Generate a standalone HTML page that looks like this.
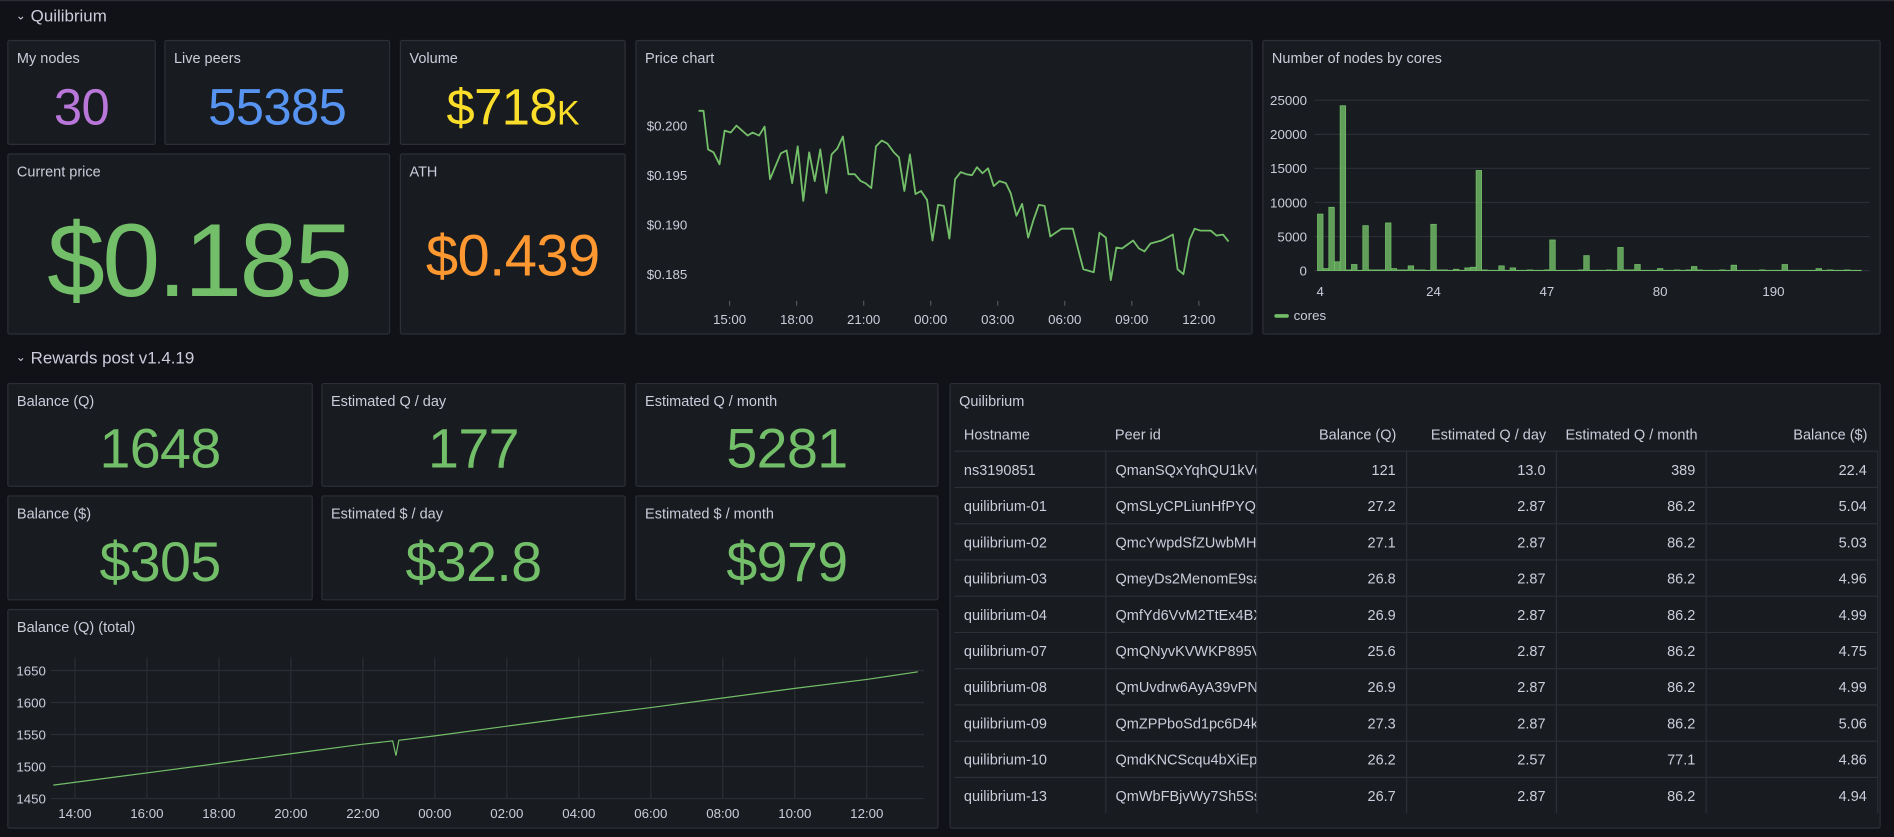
<!DOCTYPE html>
<html><head><meta charset="utf-8">
<style>
html,body{margin:0;padding:0;background:#111217;width:1894px;height:836px;overflow:hidden;}
#wrap{position:absolute;left:0;top:0;width:1568px;height:692px;transform:scale(1.20791,1.20809);transform-origin:0 0;font-family:"Liberation Sans",sans-serif;color:#ccccdc;border-top:1px solid #2a2d33;box-sizing:border-box;}
.row{position:absolute;font-size:14px;color:#ccccdc;}
.row .chev{font-size:10px;margin-right:4px;position:relative;top:-2px;}
.panel{position:absolute;background:#181b1f;border:1px solid #2c2f36;border-radius:2px;box-sizing:border-box;}
.title{position:absolute;left:7px;top:7px;font-size:12px;color:#ccccdc;}
.val{position:absolute;left:0;right:0;text-align:center;white-space:nowrap;letter-spacing:-0.5px;}
table{border-collapse:collapse;font-size:12px;}
#tbl{position:absolute;left:3px;top:29px;width:764px;table-layout:fixed;}
#tbl th{font-weight:normal;height:26px;text-align:left;padding:0 8px;white-space:nowrap;overflow:hidden;color:#ccccdc;}
#tbl td{height:29px;border-top:1px solid #2c2f36;border-right:1px solid #2c2f36;padding:0 8px;white-space:nowrap;overflow:hidden;color:#ccccdc;}
#tbl td.r,#tbl th.r{text-align:right;}
svg text{font-family:"Liberation Sans",sans-serif;}
</style></head><body>
<div id="wrap">
<div class="row" style="left:13px;top:4px"><span class="chev">&#8964;</span>Quilibrium</div>
<div class="row" style="left:13px;top:287px"><span class="chev">&#8964;</span>Rewards post v1.4.19</div>

<div class="panel" style="left:6px;top:32px;width:123px;height:87px"><div class="title">My nodes</div><div class="val" style="top:31px;font-size:42px;color:#b877d9">30</div></div>
<div class="panel" style="left:136px;top:32px;width:187px;height:87px"><div class="title">Live peers</div><div class="val" style="top:31px;font-size:42px;color:#5794f2">55385</div></div>
<div class="panel" style="left:331px;top:32px;width:187px;height:87px"><div class="title">Volume</div><div class="val" style="top:31px;font-size:42px;color:#fade2a">$718<span style="font-size:28px">K</span></div></div>
<div class="panel" style="left:6px;top:126px;width:317px;height:150px"><div class="title">Current price</div><div class="val" style="top:39px;font-size:86px;color:#73bf69;letter-spacing:-2px">$0.185</div></div>
<div class="panel" style="left:331px;top:126px;width:187px;height:150px"><div class="title">ATH</div><div class="val" style="top:57px;font-size:48px;color:#ff9830">$0.439</div></div>
<div class="panel" style="left:526px;top:32px;width:511px;height:244px"><div class="title">Price chart</div></div>
<div class="panel" style="left:1045px;top:32px;width:512px;height:244px"><div class="title">Number of nodes by cores</div></div>

<div class="panel" style="left:6px;top:316px;width:253px;height:86px"><div class="title">Balance (Q)</div><div class="val" style="top:26px;font-size:46px;color:#73bf69">1648</div></div>
<div class="panel" style="left:266px;top:316px;width:252px;height:86px"><div class="title">Estimated Q / day</div><div class="val" style="top:26px;font-size:46px;color:#73bf69">177</div></div>
<div class="panel" style="left:526px;top:316px;width:251px;height:86px"><div class="title">Estimated Q / month</div><div class="val" style="top:26px;font-size:46px;color:#73bf69">5281</div></div>
<div class="panel" style="left:6px;top:409px;width:253px;height:87px"><div class="title">Balance ($)</div><div class="val" style="top:27px;font-size:46px;color:#73bf69">$305</div></div>
<div class="panel" style="left:266px;top:409px;width:252px;height:87px"><div class="title">Estimated $ / day</div><div class="val" style="top:27px;font-size:46px;color:#73bf69">$32.8</div></div>
<div class="panel" style="left:526px;top:409px;width:251px;height:87px"><div class="title">Estimated $ / month</div><div class="val" style="top:27px;font-size:46px;color:#73bf69">$979</div></div>
<div class="panel" style="left:6px;top:503px;width:771px;height:182px"><div class="title">Balance (Q) (total)</div></div>

<div class="panel" style="left:786px;top:316px;width:771px;height:369px;overflow:hidden"><div class="title">Quilibrium</div>
<table id="tbl">
<colgroup><col style="width:125px"><col style="width:125px"><col style="width:124px"><col style="width:124px"><col style="width:124px"><col style="width:142px"></colgroup>
<thead><tr><th>Hostname</th><th>Peer id</th><th class="r">Balance (Q)</th><th class="r">Estimated Q / day</th><th class="r" style="text-overflow:clip">Estimated Q / month</th><th class="r">Balance ($)</th></tr></thead>
<tbody id="tbody"></tbody></table></div>

<svg id="svg" width="1568" height="692" style="position:absolute;left:0;top:0"></svg>
</div>
<script>
// ---- Price chart data (hours relative to 15:00) ----
const priceTimes=[-1.39,-1.17,-0.96,-0.72,-0.45,-0.22,0.05,0.31,0.81,1.03,1.32,1.57,1.81,2.29,2.55,2.80,3.05,3.30,3.56,3.81,4.06,4.33,4.57,4.82,5.07,5.32,5.60,5.87,6.08,6.34,6.55,6.81,7.06,7.35,7.58,7.82,8.07,8.32,8.57,8.84,9.08,9.33,9.59,9.84,10.09,10.34,10.60,10.85,11.07,11.32,11.57,11.82,12.08,12.36,12.58,12.84,13.09,13.36,13.59,13.84,14.10,14.35,14.60,14.86,15.36,15.61,15.83,16.30,16.55,16.84,17.06,17.31,17.56,18.06,18.32,18.57,18.83,19.33,19.84,20.05,20.31,20.59,20.81,21.07,21.53,21.79,22.08,22.33];
const priceValues=[0.2015,0.2015,0.1976,0.1973,0.1961,0.1995,0.1993,0.2000,0.1990,0.1993,0.1990,0.1999,0.1946,0.1972,0.1975,0.1942,0.1979,0.1924,0.1973,0.1944,0.1976,0.1932,0.1971,0.1977,0.1989,0.1951,0.1951,0.1944,0.1942,0.1937,0.1979,0.1985,0.1982,0.1973,0.1968,0.1934,0.1971,0.1931,0.1934,0.1925,0.1884,0.1920,0.1919,0.1886,0.1946,0.1953,0.1951,0.1950,0.1958,0.1952,0.1957,0.1939,0.1944,0.1942,0.1932,0.1909,0.1921,0.1887,0.1904,0.1920,0.1919,0.1888,0.1892,0.1896,0.1896,0.1874,0.1855,0.1852,0.1892,0.1887,0.1844,0.1877,0.1876,0.1884,0.1876,0.1873,0.1881,0.1884,0.1890,0.1855,0.1850,0.1885,0.1896,0.1894,0.1894,0.1889,0.1890,0.1883];
const priceYTicks=[0.200,0.195,0.190,0.185];
const priceXTicks=["15:00","18:00","21:00","00:00","03:00","06:00","09:00","12:00"];
// ---- Cores bar chart ----
const coreCategories=["4","5","6","7","8","9","10","11","12","13","14","15","16","17","18","19","20","21","22","23","24","25","26","27","28","29","30","31","32","33","34","35","36","37","38","39","40","41","42","44","47","48","49","50","52","54","56","58","60","62","64","66","68","70","72","74","76","77","78","79","80","84","88","90","92","96","100","104","108","112","120","124","128","136","144","152","160","168","176","184","190","192","200","208","216","224","232","240","248","256","272","288","304","320","384","512"];
const coreValues=[8300,300,9300,1300,24200,100,900,50,6600,100,100,100,7000,300,100,100,700,100,100,50,6800,100,100,50,200,50,400,500,14700,100,50,50,700,50,400,50,50,100,50,50,100,4500,50,50,50,50,100,2200,50,50,50,100,50,3400,100,100,900,50,50,50,300,50,50,100,50,100,600,100,50,50,50,100,50,800,50,50,50,50,100,50,50,50,900,50,50,50,50,50,300,50,100,50,50,100,50,50];
const coreYTicks=[0,5000,10000,15000,20000,25000];
const coreXTickIdx=[0,20,40,60,80];
// ---- Balance total (hours relative to 14:00) ----
const balTimes=[-0.6,2,4,6,8,8.83,8.92,9.0,10,12,14,16,18,20,22,23.42];
const balValues=[1471,1490,1505,1520,1535,1540,1517,1541,1548,1563,1578,1592,1607,1622,1636,1648];
const balYTicks=[1450,1500,1550,1600,1650];
const balXTicks=["14:00","16:00","18:00","20:00","22:00","00:00","02:00","04:00","06:00","08:00","10:00","12:00"];
// ---- Table ----
const hosts=["ns3190851","quilibrium-01","quilibrium-02","quilibrium-03","quilibrium-04","quilibrium-07","quilibrium-08","quilibrium-09","quilibrium-10","quilibrium-13"];
const peers=["QmanSQxYqhQU1kVcX","QmSLyCPLiunHfPYQsX","QmcYwpdSfZUwbMHX","QmeyDs2MenomE9saX","QmfYd6VvM2TtEx4BX","QmQNyvKVWKP895VX","QmUvdrw6AyA39vPNX","QmZPPboSd1pc6D4kX","QmdKNCScqu4bXiEpX","QmWbFBjvWy7Sh5SsX"];
const balQ=["121","27.2","27.1","26.8","26.9","25.6","26.9","27.3","26.2","26.7"];
const estDay=["13.0","2.87","2.87","2.87","2.87","2.87","2.87","2.87","2.57","2.87"];
const estMonth=["389","86.2","86.2","86.2","86.2","86.2","86.2","86.2","77.1","86.2"];
const balUsd=["22.4","5.04","5.03","4.96","4.99","4.75","4.99","5.06","4.86","4.94"];

const NS="http://www.w3.org/2000/svg";
const svg=document.getElementById('svg');
function mk(tag,attrs,parent){const e=document.createElementNS(NS,tag);for(const k in attrs)e.setAttribute(k,attrs[k]);(parent||svg).appendChild(e);return e;}
function txt(x,y,s,anchor,parent){const t=mk('text',{x:x,y:y,fill:'#ccccdc','font-size':11,'text-anchor':anchor||'start'},parent);t.textContent=s;return t;}

// Price chart
const px=t=>604+t*18.5, py=v=>103+(0.200-v)/0.005*41;
priceYTicks.forEach(v=>{const t=txt(569,py(v)+4,'$'+v.toFixed(3),'end');

});
priceXTicks.forEach((s,i)=>{const x=px(i*3);
const l=mk('line',{x1:x,x2:x,y1:248,y2:252,stroke:'#555'});


const t=txt(x,267,s,'middle');

});
{let d=priceTimes.map((t,i)=>(i?'L':'M')+px(t).toFixed(1)+','+py(priceValues[i]).toFixed(1)).join('');
const p=mk('path',{d:d,fill:'none',stroke:'#73bf69','stroke-width':1.5,'stroke-linejoin':'round'});

}

// Cores bar chart
const cx=i=>1093+i*4.69, cy=v=>223-v*141/25000;
coreYTicks.forEach(v=>{const g=mk('line',{x1:1088,x2:1548,y1:cy(v),y2:cy(v),stroke:'#2a2d33'});


const t=txt(1082,cy(v)+4,String(v),'end');

});
coreValues.forEach((v,i)=>{const y=cy(v);
const r=mk('rect',{x:cx(i)-2.3,y:y,width:4.6,height:223-y,fill:'#73bf69','fill-opacity':0.8,stroke:'#73bf69','stroke-width':0.6});

});
coreXTickIdx.forEach(i=>{const t=txt(cx(i),244,coreCategories[i],'middle');

});
{const sw=mk('rect',{x:1055,y:259,width:12,height:3,rx:1.5,fill:'#73bf69'});


const t=txt(1071,264,'cores');

}

// Balance total chart
const bx=t=>62+t*29.8, by=v=>660-(v-1450)*106/200;
balXTicks.forEach((s,i)=>{const x=bx(i*2);
const g=mk('line',{x1:x,x2:x,y1:543,y2:660,stroke:'#2a2d33'});


const t=txt(x,676,s,'middle');

});
balYTicks.forEach(v=>{const g=mk('line',{x1:42,x2:765,y1:by(v),y2:by(v),stroke:'#2a2d33'});


const t=txt(38,by(v)+4,String(v),'end');

});
{let d=balTimes.map((t,i)=>(i?'L':'M')+bx(t).toFixed(1)+','+by(balValues[i]).toFixed(1)).join('');
const p=mk('path',{d:d,fill:'none',stroke:'#73bf69','stroke-width':1});

}

// Table
const tb=document.getElementById('tbody');
hosts.forEach((h,i)=>{const tr=document.createElement('tr');


[[h,''],[peers[i],''],[balQ[i],'r'],[estDay[i],'r'],[estMonth[i],'r'],[balUsd[i],'r']].forEach(([s,c])=>{const td=document.createElement('td');td.textContent=s;if(c)td.className=c;


tr.appendChild(td);});
tb.appendChild(tr);});
</script>
</body></html>
